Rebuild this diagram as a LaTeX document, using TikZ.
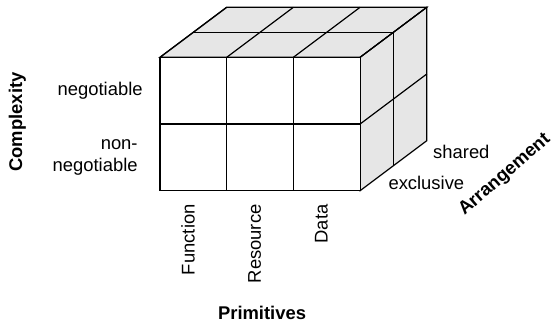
\documentclass[tikz,border=0pt]{standalone}
\usepackage{fontspec}
\setmainfont{Liberation Sans}
\usepackage{tikz}
\usetikzlibrary{positioning,calc}
\definecolor{cubeline}{RGB}{0,0,0}
\definecolor{cubeshade}{RGB}{230,230,230}
\tikzset{
  edge/.style={draw=cubeline, line width=0.6pt, line join=miter},
  shadeface/.style={edge, fill=cubeshade},
  frontface/.style={edge, fill=white},
  axislabel/.style={font=\fontsize{9.2}{11}\selectfont\bfseries, inner sep=0pt},
  valuelabel/.style={font=\fontsize{9.2}{11}\selectfont, inner sep=0pt}
}

\begin{document}
\begin{tikzpicture}[x=33.35pt, y=33.35pt]
      \useasboundingbox (-2.399,-2.014) rectangle (5.877,2.859);
      % top and right faces
      \draw[shadeface] (0,2) -- (3,2) -- (4,2.75) -- (1,2.75) -- cycle;
      \draw[shadeface] (3,0) -- (4,0.75) -- (4,2.75) -- (3,2) -- cycle;
      \foreach \i in {0,...,3}
        \draw[edge] (\i,2) -- ++(1,0.75);
      \draw[edge] (0.5,2.375) -- (3.5,2.375);
      \draw[edge] (3,1) -- (4,1.75);
      \draw[edge] (3.5,0.375) -- (3.5,2.375);
      % front face
      \draw[frontface] (0,0) rectangle (3,2);
      \foreach \i in {1,2}
        \draw[edge] (\i,0) -- (\i,2);
      \draw[edge] (0,1) -- (3,1);
      % complexity
      \node[valuelabel, anchor=east] (neg) at (-0.255,1.5) {negotiable};
      \node[valuelabel, anchor=east, align=right] (nonneg) at (-0.33,0.5) {non-\\negotiable};
      \node[axislabel, rotate=90] (complexity) at (-2.14,1.03) {Complexity};
      % primitives
      \node[valuelabel, rotate=90, anchor=east] (function) at (0.42,-0.2) {Function};
      \node[valuelabel, rotate=90, anchor=east] (resource) at (1.42,-0.2) {Resource};
      \node[valuelabel, rotate=90, anchor=east] (data) at (2.42,-0.2) {Data};
      \node[axislabel] (primitives) at (1.53,-1.83) {Primitives};
      % arrangement
      \node[valuelabel, anchor=west] (shared) at (4.09,0.58) {shared};
      \node[valuelabel, anchor=west] (exclusive) at (3.42,0.115) {exclusive};
      \node[axislabel, rotate=41] (arrangement) at (5.17,0.235) {Arrangement};
    \end{tikzpicture}
\end{document}
